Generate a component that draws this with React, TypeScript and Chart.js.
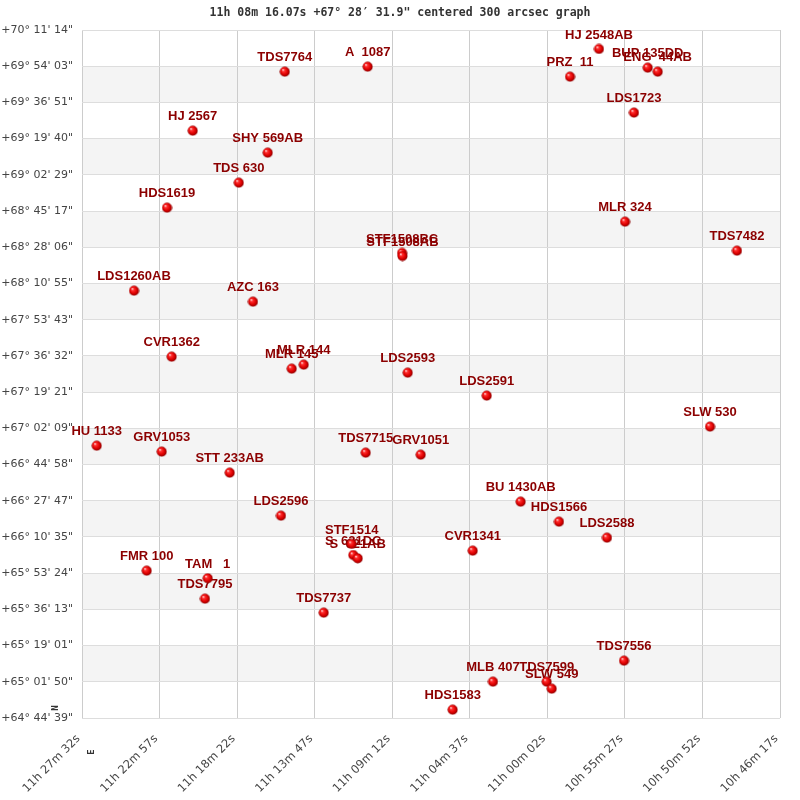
import React, { useEffect, useRef } from "react";
import { Chart, registerables } from "chart.js";

Chart.register(...registerables);

const TITLE = "11h 08m 16.07s +67° 28′ 31.9\" centered 300 arcsec graph";

const starNames = [
  "TDS7764", "A  1087", "HJ 2567", "SHY 569AB", "TDS 630", "HDS1619",
  "STF1508BC", "STF1508AB", "HJ 2548AB", "PRZ  11", "BUP 135DD", "ENG  44AB",
  "LDS1723", "MLR 324", "TDS7482", "LDS1260AB", "AZC 163", "CVR1362",
  "MLR 145", "MLR 144", "HU 1133", "GRV1053", "STT 233AB", "TDS7715",
  "LDS2593", "LDS2591", "SLW 530", "GRV1051", "BU 1430AB", "LDS2596",
  "STF1514", "S  621DC", "S  621AB", "FMR 100", "TAM   1", "TDS7795",
  "TDS7737", "HDS1566", "LDS2588", "CVR1341", "TDS7556", "MLB 407",
  "TDS7599", "SLW 549", "HDS1583",
];

// Right ascension in seconds of time
const raSeconds = [
  40533, 40239, 40859.5, 40593.5, 40696, 40950.6,
  40117, 40115.6, 39418.8, 39521.6, 39246, 39210.7,
  39294.7, 39326.6, 38929.5, 41067.6, 40645.7, 40934,
  40508.4, 40465.9, 41199.9, 40969.4, 40728.3, 40246,
  40097, 39817, 39025, 40051, 39696.5, 40546.4,
  40295.7, 40290, 40274.4, 41022.6, 40806.3, 40815.9,
  40395, 39560.7, 39390.5, 39866.6, 39330, 39794.7,
  39604.3, 39586.5, 39937.6,
];

// Declination in arcseconds
const decArcsec = [
  251486, 251629, 249806, 249179, 248325, 247613,
  246323, 246237, 252133, 251344, 251600, 251486,
  250319, 247214, 246388, 245249, 244936, 243369,
  243027, 243141, 240834, 240664, 240065, 240635,
  242913, 242259, 241376, 240578, 239239, 238841,
  238035, 237721, 237627, 237274, 237058, 236477,
  236078, 238670, 238214, 237844, 234711, 234113,
  234113, 233913, 233315,
];

const raTickLabels = [
  "11h 27m 32s", "11h 22m 57s", "11h 18m 22s", "11h 13m 47s", "11h 09m 12s",
  "11h 04m 37s", "11h 00m 02s", "10h 55m 27s", "10h 50m 52s", "10h 46m 17s",
];

const decTickLabels = [
  "+64° 44' 39\"", "+65° 01' 50\"", "+65° 19' 01\"", "+65° 36' 13\"", "+65° 53' 24\"",
  "+66° 10' 35\"", "+66° 27' 47\"", "+66° 44' 58\"", "+67° 02' 09\"", "+67° 19' 21\"",
  "+67° 36' 32\"", "+67° 53' 43\"", "+68° 10' 55\"", "+68° 28' 06\"", "+68° 45' 17\"",
  "+69° 02' 29\"", "+69° 19' 40\"", "+69° 36' 51\"", "+69° 54' 03\"", "+70° 11' 14\"",
];

function parseRa(s: string): number {
  const m = s.match(/(\d+)h (\d+)m (\d+)s/)!;
  return +m[1] * 3600 + +m[2] * 60 + +m[3];
}
function parseDec(s: string): number {
  const m = s.match(/([+-])(\d+)° (\d+)' (\d+)"/)!;
  const v = +m[2] * 3600 + +m[3] * 60 + +m[4];
  return m[1] === "-" ? -v : v;
}

const raTickValues = raTickLabels.map(parseRa);
const decTickValues = decTickLabels.map(parseDec);

function makeSphere(): HTMLCanvasElement {
  const c = document.createElement("canvas");
  const s = 11;
  c.width = s;
  c.height = s;
  const g = c.getContext("2d")!;
  const grad = g.createRadialGradient(3.8, 3.6, 0.3, 5.5, 5.5, 5.5);
  grad.addColorStop(0, "#ffe0e0");
  grad.addColorStop(0.2, "#ff3030");
  grad.addColorStop(0.6, "#e00000");
  grad.addColorStop(1, "#7a0000");
  g.fillStyle = grad;
  g.beginPath();
  g.arc(5.5, 5.5, 5, 0, Math.PI * 2);
  g.fill();
  return c;
}

const bandsPlugin = {
  id: "bands",
  beforeDraw(chart: any) {
    const { ctx, chartArea } = chart;
    const y = chart.scales.y;
    ctx.save();
    ctx.fillStyle = "#f4f4f4";
    for (let i = 0; i < decTickValues.length - 1; i++) {
      if (i % 2 === 1) {
        const a = y.getPixelForValue(decTickValues[i]);
        const b = y.getPixelForValue(decTickValues[i + 1]);
        ctx.fillRect(chartArea.left, b, chartArea.right - chartArea.left, a - b);
      }
    }
    ctx.restore();
  },
};

const labelsPlugin = {
  id: "starLabels",
  beforeDatasetsDraw(chart: any) {
    const { ctx } = chart;
    const meta = chart.getDatasetMeta(0);
    ctx.save();
    ctx.font = "bold 13px 'Liberation Sans', Arial, sans-serif";
    ctx.fillStyle = "#8c0000";
    ctx.textAlign = "center";
    ctx.textBaseline = "middle";
    meta.data.forEach((el: any, i: number) => {
      ctx.fillText(starNames[i], el.x, el.y - 14);
    });
    ctx.restore();
  },
};

const decorPlugin = {
  id: "decor",
  afterDraw(chart: any) {
    const { ctx, chartArea } = chart;
    const x = chart.scales.x;
    ctx.save();
    // x tick labels, rotated 45°
    ctx.font = "11.5px 'DejaVu Sans', sans-serif";
    ctx.fillStyle = "#444444";
    ctx.textAlign = "right";
    ctx.textBaseline = "middle";
    raTickValues.forEach((v, i) => {
      const px = x.getPixelForValue(v);
      ctx.save();
      ctx.translate(px - 3.5, chartArea.bottom + 19);
      ctx.rotate(-Math.PI / 4);
      ctx.fillText(raTickLabels[i], 0, 0);
      ctx.restore();
    });
    // title
    ctx.font = "bold 11.5px 'DejaVu Sans Mono', monospace";
    ctx.fillStyle = "#333333";
    ctx.textAlign = "center";
    ctx.textBaseline = "middle";
    ctx.fillText(TITLE, 400, 13);
    // orientation marks
    ctx.font = "bold 9px 'DejaVu Sans Mono', monospace";
    const mark = (t: string, mx: number, my: number) => {
      ctx.save();
      ctx.translate(mx, my);
      ctx.rotate(-Math.PI / 2);
      ctx.fillText(t, 0, 0);
      ctx.restore();
    };
    mark("N", 56, 708);
    mark("E", 92, 752);
    ctx.restore();
  },
};

export default function App() {
  const ref = useRef<HTMLCanvasElement | null>(null);
  useEffect(() => {
    if (!ref.current) return;
    const sphere = makeSphere();
    const points = raSeconds.map((ra, i) => ({ x: ra, y: decArcsec[i] }));
    const chart = new Chart(ref.current, {
      type: "scatter",
      data: {
        datasets: [
          {
            data: points,
            pointStyle: sphere as any,
            pointRadius: 5,
            pointHoverRadius: 5,
          },
        ],
      },
      plugins: [bandsPlugin, labelsPlugin, decorPlugin],
      options: {
        animation: false,
        responsive: false,
        devicePixelRatio: 1,
        layout: { padding: { top: 30, right: 20, left: 0, bottom: 0 } },
        plugins: {
          legend: { display: false },
          tooltip: { enabled: false },
          title: { display: false },
        },
        scales: {
          x: {
            type: "linear",
            reverse: true,
            min: Math.min(...raTickValues),
            max: Math.max(...raTickValues),
            afterBuildTicks: (scale: any) => {
              scale.ticks = raTickValues.map((v) => ({ value: v }));
            },
            afterFit: (scale: any) => {
              scale.height = 82;
            },
            grid: { color: "#cccccc", drawTicks: false, lineWidth: 1 },
            border: { display: false },
            ticks: { display: false, autoSkip: false },
          },
          y: {
            type: "linear",
            min: Math.min(...decTickValues),
            max: Math.max(...decTickValues),
            afterBuildTicks: (scale: any) => {
              scale.ticks = decTickValues.map((v) => ({ value: v }));
            },
            afterFit: (scale: any) => {
              scale.width = 82;
            },
            grid: { color: "#dddddd", drawTicks: false, lineWidth: 1 },
            border: { display: false },
            ticks: {
              autoSkip: false,
              padding: 9,
              color: "#444444",
              font: { family: "'DejaVu Sans', sans-serif", size: 11 },
              callback: (v: any) => {
                const i = decTickValues.indexOf(Number(v));
                return i >= 0 ? decTickLabels[i] : "";
              },
            },
          },
        },
      },
    });
    return () => chart.destroy();
  }, []);
  return (
    <div style={{ position: "absolute", left: 0, top: 0, width: 800, height: 800, background: "#fff" }}>
      <canvas ref={ref} width={800} height={800} />
    </div>
  );
}
